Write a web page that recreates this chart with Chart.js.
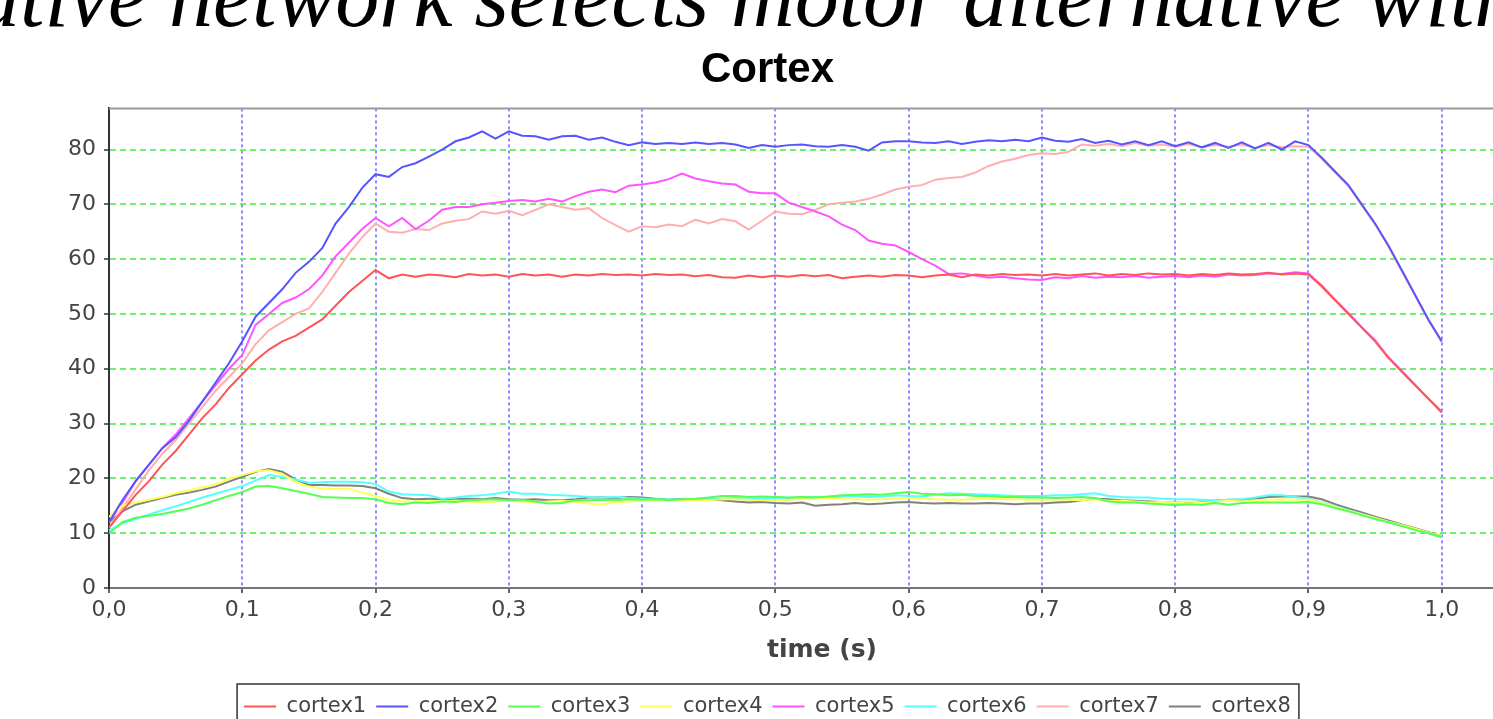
<!DOCTYPE html>
<html>
<head>
<meta charset="utf-8">
<script src="https://cdn.jsdelivr.net/npm/chart.js@4/dist/chart.umd.min.js"></script>
<style>
  html, body { margin: 0; padding: 0; background: #fff; overflow: hidden; }
  #wrap { position: relative; width: 1493px; height: 719px; overflow: hidden; }
  canvas { position: absolute; left: 0; top: 0; }
</style>
</head>
<body>
<div id="wrap"><canvas id="cortex-chart" width="1544" height="740"></canvas></div>
<script>
// sample grid: 0.00 .. 1.00 s, every 10 ms
const times = Array.from({length: 101}, (_, i) => +(i * 0.01).toFixed(2));

const seriesNames = ["cortex1", "cortex2", "cortex3", "cortex4", "cortex5", "cortex6", "cortex7", "cortex8"];
const seriesColors = ["#ff5555", "#5555ff", "#55ff55", "#ffff55", "#ff55ff", "#55ffff", "#ffafaf", "#808080"];
const xTickLabels = ["0,0", "0,1", "0,2", "0,3", "0,4", "0,5", "0,6", "0,7", "0,8", "0,9", "1,0"];
const yTickLabels = ["0", "10", "20", "30", "40", "50", "60", "70", "80"];

const cortex1 = [11, 14, 17, 19.5, 22.5, 25, 28, 31, 33.5, 36.5,
  39, 41.5, 43.5, 45, 46, 47.5, 49, 51.5, 54, 56,
  58, 56.5, 57.2, 56.8, 57.2, 57, 56.7, 57.3, 57, 57.2,
  56.8, 57.3, 57, 57.2, 56.8, 57.2, 57, 57.3, 57.1, 57.2,
  57, 57.3, 57.1, 57.2, 56.9, 57.1, 56.7, 56.6, 57, 56.7,
  57, 56.8, 57.1, 56.9, 57.1, 56.5, 56.8, 57, 56.8, 57.1,
  57, 56.7, 57, 57.2, 56.7, 57.2, 57, 57.3, 57.1, 57.2,
  57, 57.3, 57, 57.2, 57.4, 57, 57.3, 57.1, 57.4, 57.2,
  57.3, 57, 57.3, 57.1, 57.4, 57.2, 57.3, 57.5, 57.2, 57.4,
  57.2, 55, 52.5, 50, 47.5, 45, 42, 39.5, 37, 34.5, 32];

const cortex2 = [12, 16, 19.5, 22.5, 25.5, 27.5, 30.5, 34, 37.5, 41,
  45, 49.5, 52, 54.5, 57.5, 59.5, 62, 66.5, 69.5, 73,
  75.5, 75, 76.8, 77.5, 78.7, 80, 81.5, 82.2, 83.3, 82,
  83.3, 82.5, 82.4, 81.8, 82.4, 82.5, 81.8, 82.2, 81.4, 80.8,
  81.3, 81, 81.2, 81, 81.3, 81, 81.2, 80.9, 80.3, 80.8,
  80.5, 80.8, 80.9, 80.6, 80.5, 80.8, 80.5, 79.8, 81.3, 81.5,
  81.5, 81.3, 81.2, 81.5, 81, 81.4, 81.7, 81.5, 81.8, 81.5,
  82.2, 81.6, 81.4, 81.9, 81.2, 81.6, 80.9, 81.5, 80.8, 81.5,
  80.6, 81.3, 80.4, 81.2, 80.3, 81.3, 80.2, 81.2, 80, 81.5,
  80.8, 78.5, 76, 73.5, 70, 66.5, 62.5, 58, 53.5, 49, 45];

const cortex3 = [10, 12, 12.8, 13.2, 13.5, 14, 14.5, 15.2, 16, 16.8,
  17.5, 18.5, 18.6, 18.2, 17.7, 17.2, 16.6, 16.5, 16.4, 16.4,
  16.2, 15.5, 15.3, 15.6, 15.5, 15.8, 15.7, 16, 16.1, 16.2,
  16, 16.1, 15.8, 15.4, 15.5, 16, 16, 16.1, 16, 16.2,
  16.1, 16.2, 16, 16.2, 16.3, 16.5, 16.8, 16.8, 16.6, 16.7,
  16.6, 16.5, 16.6, 16.5, 16.7, 16.9, 17, 17.1, 17, 17.3,
  17.5, 17.2, 17.1, 16.9, 17, 16.8, 16.8, 16.6, 16.6, 16.5,
  16.5, 16.4, 16.5, 16.6, 16.4, 15.8, 15.6, 15.6, 15.4, 15.3,
  15.1, 15.3, 15.2, 15.5, 15.2, 15.5, 15.6, 15.6, 15.6, 15.6,
  15.7, 15.3, 14.6, 14, 13.3, 12.6, 12, 11.3, 10.6, 10, 9.3];

const cortex4 = [13, 15, 15.6, 16.1, 16.6, 17.3, 17.8, 18.4, 18.9, 19.9,
  20.6, 21.3, 21.5, 20.8, 19.3, 18.5, 18.2, 18.1, 18.1, 17.4,
  16.8, 16, 15.8, 15.8, 15.9, 15.8, 15.9, 15.8, 15.7, 15.8,
  15.9, 15.8, 15.6, 15.8, 15.9, 15.7, 15.4, 15.3, 15.6, 15.8,
  15.9, 16, 16.1, 16, 15.9, 16, 16.2, 16.2, 16.1, 16,
  16, 16.1, 16.3, 16.2, 16.4, 16.2, 16.2, 16.1, 16.2, 16.3,
  16.4, 16.3, 16.2, 16.1, 16.1, 16.2, 16.3, 16.2, 16.2, 16.1,
  16.1, 16.2, 16.1, 16, 16.2, 15.9, 15.9, 15.8, 15.6, 15.7,
  15.6, 15.8, 15.6, 15.7, 15.9, 15.8, 16, 16.1, 16.2, 16.1,
  16.1, 15.5, 14.8, 14.1, 13.4, 12.8, 12.1, 11.5, 10.8, 10.1, 9.5];

const cortex5 = [12, 15.5, 19.5, 22.5, 25.5, 28, 31, 34, 37, 40,
  42.5, 48, 50, 52, 53, 54.5, 57, 60.5, 63, 65.5,
  67.5, 66, 67.5, 65.5, 67, 69, 69.5, 69.5, 70, 70.3,
  70.6, 70.8, 70.5, 71, 70.5, 71.5, 72.3, 72.7, 72.2, 73.4,
  73.6, 74, 74.6, 75.6, 74.7, 74.2, 73.8, 73.6, 72.3, 72,
  72, 70.3, 69.5, 68.7, 67.8, 66.3, 65.3, 63.4, 62.8, 62.5,
  61.3, 60, 58.8, 57.3, 57.4, 57, 56.6, 56.8, 56.5, 56.3,
  56.2, 56.7, 56.5, 56.9, 56.6, 56.8, 56.7, 56.9, 56.6, 56.8,
  56.9, 56.7, 57, 56.8, 57.2, 57, 57.1, 57.4, 57.3, 57.6,
  57.4, 55.2, 52.6, 50.2, 47.6, 45.2, 42.1, 39.6, 37.1, 34.6, 32.2];

const cortex6 = [10.5, 11.8, 12.6, 13.4, 14.2, 14.9, 15.7, 16.5, 17.2, 17.9,
  18.6, 19.6, 20.6, 20.3, 19.8, 19.2, 19.3, 19.4, 19.4, 19.3,
  19, 17.6, 17.1, 17, 16.9, 16.3, 16.5, 16.8, 16.9, 17.2,
  17.6, 17.2, 17.2, 17, 16.9, 16.8, 16.6, 16.5, 16.6, 16.4,
  16.3, 16.2, 16.2, 16.1, 16.2, 16.3, 16.2, 16.4, 16.3, 16.2,
  16.5, 16.4, 16.5, 16.6, 16.6, 16.7, 16.8, 16.6, 16.7, 16.9,
  16.8, 16.7, 17, 17.3, 17.2, 17.1, 17, 16.9, 16.8, 16.8,
  16.8, 16.9, 16.9, 17.1, 17.3, 16.8, 16.6, 16.5, 16.5, 16.3,
  16.2, 16.2, 16.1, 16, 16.1, 16.2, 16.5, 16.9, 16.9, 16.6,
  16.3, 15.6, 14.9, 14.2, 13.5, 12.8, 12.1, 11.4, 10.7, 10, 9.2];

const cortex7 = [11, 14.5, 18, 21.5, 24.5, 27, 30, 33, 36, 38.5,
  41, 44.5, 47, 48.5, 50, 51, 54, 57.5, 61, 64,
  66.5, 65, 64.8, 65.5, 65.3, 66.5, 67, 67.3, 68.7, 68.3,
  68.8, 68, 69, 70, 69.5, 69, 69.3, 67.5, 66.2, 65,
  66, 65.8, 66.3, 66, 67.2, 66.5, 67.3, 66.9, 65.4, 67,
  68.7, 68.3, 68.2, 69, 70, 70.3, 70.5, 71, 71.8, 72.7,
  73.2, 73.5, 74.5, 74.8, 75, 75.8, 77, 77.8, 78.3, 79,
  79.3, 79.2, 79.6, 80.9, 80.7, 81, 80.6, 81.2, 80.7, 80.9,
  80.5, 81, 80.4, 80.8, 80.5, 80.9, 80.3, 80.8, 80.4, 80.6,
  80.5, 78.3, 75.8, 73.3, 69.8, 66.3, 62.3, 57.8, 53.3, 48.8, 44.8];

const cortex8 = [12, 14, 15.2, 15.8, 16.4, 17, 17.4, 17.9, 18.5, 19.4,
  20.3, 21.2, 21.7, 21.2, 19.8, 18.8, 18.8, 18.7, 18.7, 18.6,
  18.2, 17.2, 16.4, 16.2, 16.3, 16.2, 16.3, 16.3, 16.2, 16.4,
  16.2, 16.1, 16.2, 16, 16, 16.2, 16.5, 16.5, 16.4, 16.6,
  16.5, 16.3, 16.2, 16.2, 16.1, 16.2, 16, 15.8, 15.6, 15.7,
  15.5, 15.4, 15.6, 15, 15.2, 15.3, 15.5, 15.3, 15.4, 15.6,
  15.7, 15.5, 15.4, 15.5, 15.4, 15.4, 15.5, 15.4, 15.3, 15.4,
  15.4, 15.6, 15.7, 16, 16.3, 16.2, 16, 15.9, 15.8, 15.7,
  15.6, 15.7, 15.8, 15.9, 16.1, 16.1, 16.3, 16.6, 16.7, 16.7,
  16.7, 16.2, 15.3, 14.5, 13.8, 13, 12.3, 11.6, 10.9, 10.2, 9.5];

const seriesValues = [cortex1, cortex2, cortex3, cortex4, cortex5, cortex6, cortex7, cortex8];

// frame of the plot, in px of the page
const plotLeft = 109;
const xMax = 1.07;
const yMax = 87.5;

const topCaption = {
  id: 'topCaption',
  beforeDraw(chart) {
    const ctx = chart.ctx;
    ctx.save();
    ctx.fillStyle = '#000';
    ctx.font = 'italic 88px "Liberation Serif"';
    ctx.textBaseline = 'alphabetic';
    ctx.fillText('ative network selects motor alternative within', -24, 26);
    ctx.restore();
  }
};

const plotFrame = {
  id: 'plotFrame',
  afterDraw(chart) {
    const ctx = chart.ctx;
    const a = chart.chartArea;
    ctx.save();
    ctx.strokeStyle = '#999';
    ctx.lineWidth = 2;
    ctx.beginPath();
    ctx.moveTo(a.left, a.top);
    ctx.lineTo(a.right, a.top);
    ctx.stroke();
    // border round the legend
    const boxes = chart.legend.legendHitBoxes;
    if (boxes && boxes.length) {
      const first = boxes[0], last = boxes[boxes.length - 1];
      const left = first.left - 7;
      const right = last.left + last.width + 8;
      const top = first.top - 12;
      ctx.strokeStyle = '#333';
      ctx.lineWidth = 1.5;
      ctx.strokeRect(left, top, right - left, 200);
    }
    ctx.restore();
  }
};

new Chart(document.getElementById('cortex-chart'), {
  type: 'line',
  data: {
    labels: times,
    datasets: seriesNames.map((name, i) => ({
      label: name,
      data: seriesValues[i],
      borderColor: seriesColors[i],
      backgroundColor: seriesColors[i],
      borderWidth: 2,
      pointRadius: 0,
      tension: 0,
      fill: false
    }))
  },
  options: {
    responsive: false,
    animation: false,
    devicePixelRatio: 1,
    layout: { padding: { left: 0, right: 9, top: 0, bottom: 13 } },
    plugins: {
      title: {
        display: true,
        text: 'Cortex',
        color: '#000',
        font: { family: '"Liberation Sans"', size: 42, weight: 'bold' },
        padding: { top: 45, bottom: 13 }
      },
      legend: {
        position: 'bottom',
        labels: {
          color: '#444',
          font: { family: '"DejaVu Sans"', size: 21 },
          boxWidth: 32,
          boxHeight: 0,
          padding: 10
        }
      },
      tooltip: { enabled: false }
    },
    scales: {
      x: {
        type: 'linear',
        min: 0,
        max: xMax,
        afterBuildTicks(scale) {
          scale.ticks = xTickLabels.map((_, i) => ({ value: i / 10 }));
        },
        afterFit(scale) { scale.height = 98; },
        ticks: {
          color: '#444',
          font: { family: '"DejaVu Sans"', size: 22 },
          padding: 4,
          maxRotation: 0,
          autoSkip: false,
          callback: (v, i) => xTickLabels[i]
        },
        grid: { color: '#8c8cff', lineWidth: 2, tickLength: 5, tickColor: '#666', tickBorderDash: [] },
        border: { display: true, color: '#777', width: 2, dash: [3, 3] },
        title: {
          display: true,
          text: 'time (s)',
          color: '#444',
          font: { family: '"DejaVu Sans"', size: 25, weight: 'bold' },
          padding: { top: 0, bottom: 21 }
        }
      },
      y: {
        min: 0,
        max: yMax,
        afterBuildTicks(scale) {
          scale.ticks = yTickLabels.map(t => ({ value: +t }));
        },
        afterFit(scale) { scale.width = plotLeft; },
        ticks: {
          color: '#444',
          font: { family: '"DejaVu Sans"', size: 22 },
          padding: 8,
          autoSkip: false,
          callback: (v, i) => yTickLabels[i]
        },
        grid: { color: '#70ee70', lineWidth: 2, tickLength: 5, tickColor: '#666', tickBorderDash: [] },
        border: { display: true, color: '#333', width: 2, dash: [6, 4] }
      }
    }
  },
  plugins: [topCaption, plotFrame]
});
</script>
</body>
</html>
